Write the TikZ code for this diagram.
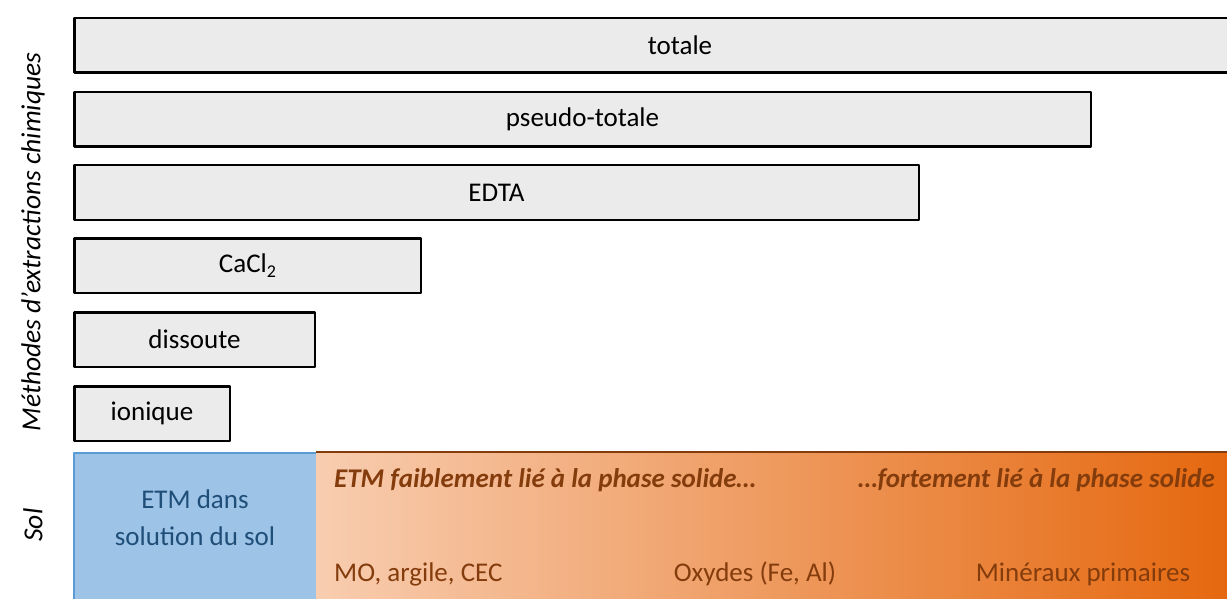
\documentclass[tikz,border=0pt]{standalone}
\usepackage{fontspec}
\setmainfont{Carlito}
\definecolor{barfill}{HTML}{EBEBEB}
\definecolor{solblue}{HTML}{9DC3E6}
\definecolor{solline}{HTML}{5B9BD5}
\definecolor{soltxt}{HTML}{1F4E79}
\definecolor{peach}{HTML}{F8CDB0}
\definecolor{rust}{HTML}{E5680F}
\definecolor{brown}{HTML}{843C0C}
\begin{document}
\begin{tikzpicture}[x=1pt,y=-1pt,line join=round,font=\fontsize{27}{37}\selectfont,
	bar/.style={draw=black,line width=2.5pt,fill=barfill,anchor=north west,minimum height=54.5pt,inner sep=0pt},
	side/.style={rotate=90,font=\fontsize{27.5}{37}\selectfont\itshape},
	phase/.style={text=brown,inner sep=0pt}]
	\useasboundingbox (0,0) rectangle (1227,599);
	% barres des extractions
	\def\x{73}
	\node[bar,minimum width=1211.5pt] (totale) at (\x,17) {totale};
	\node[bar,minimum width=1016.5pt] (pseudo) at (\x,91) {pseudo-totale};
	\node[bar,minimum width=844.5pt] (edta) at (\x,164) {EDTA};
	\node[bar,minimum width=346.5pt] (cacl) at (\x,237) {CaCl\raisebox{-0.35ex}{\fontsize{18}{18}\selectfont 2}};
	\node[bar,minimum width=240.5pt] (dissoute) at (\x,311) {dissoute};
	\node[bar,minimum width=155.5pt] (ionique) at (\x,385) {ionique};
	% sol
	\node[draw=solline,line width=1.5pt,fill=solblue,anchor=north west,minimum width=243pt,minimum height=170pt,inner sep=0pt] (solution) at (73,452) {};
	\node[text=soltxt,align=center,inner sep=0pt] (etm) at (195,518) {ETM dans\\solution du sol};
	\node[left color=peach,right color=rust,anchor=north west,minimum width=911pt,minimum height=170pt,inner sep=0pt] (phase) at (316,452) {};
	\draw[brown,line width=1.5pt] (phase.north west)--(phase.north east);
	\node[phase,anchor=west,font=\fontsize{27}{37}\selectfont\bfseries\itshape] (faible) at (334,480) {ETM faiblement lié à la phase solide…};
	\node[phase,anchor=east,font=\fontsize{27}{37}\selectfont\bfseries\itshape] (fort) at (1215,480) {…fortement lié à la phase solide};
	\node[phase,anchor=west] (mo) at (334,574) {MO, argile, CEC};
	\node[phase] (oxydes) at (755,574) {Oxydes (Fe, Al)};
	\node[phase] (mineraux) at (1083,574) {Minéraux primaires};
	% titres
	\node[side] (methodes) at (33,242) {Méthodes d’extractions chimiques};
	\node[side] (sol) at (33,525) {Sol};
\end{tikzpicture}
\end{document}
